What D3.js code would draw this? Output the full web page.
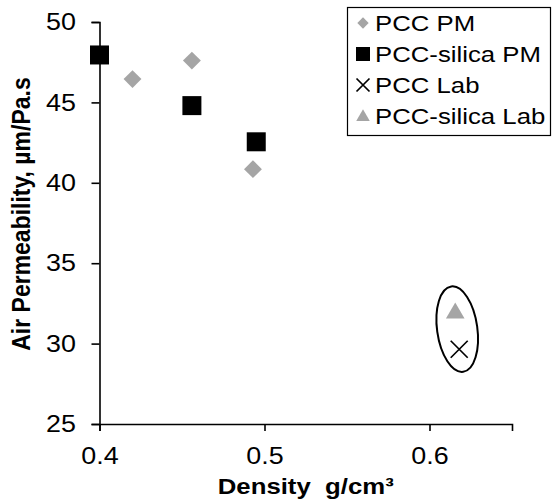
<!DOCTYPE html>
<html>
<head>
<meta charset="utf-8">
<script src="https://cdn.jsdelivr.net/npm/d3@7"></script>
<style>
  body { margin: 0; background: #fff; }
  svg { display: block; font-family: "Liberation Sans", Arial, sans-serif; }
</style>
</head>
<body>
<div id="chart"></div>
<script>
// density (g/cm3) and air permeability (um/Pa.s)
const pccPM = [[0.420, 46.45], [0.456, 47.6], [0.493, 40.85]]
const pccSilicaPM = [[0.400, 47.95], [0.456, 44.8], [0.495, 42.55]]
const pccLab = [[0.618, 29.65]]
const pccSilicaLab = [[0.6156, 31.95]]

// ellipse drawn round the lab points, in data units
const labRing = {cx: 0.6168, cy: 30.9, rx: 0.0122, ry: 2.68, angle: -8}

const xTicks = [0.4, 0.5, 0.6]
const yTicks = [25, 30, 35, 40, 45, 50]
const legendNames = ["PCC PM", "PCC-silica PM", "PCC Lab", "PCC-silica Lab"]

const size = [553, 504]
const margin = ({top: 22, right: 41, bottom: 80, left: 99.5})
const grey = "#a5a5a5"
const stretch = "scale(1.12,1)"  // the original text is a little wide

const svg = d3.create("svg")
  .attr("width", size[0])
  .attr("height", size[1])

const scaleX = d3.scaleLinear()
  .domain([0.4, 0.65])
  .range([margin.left, size[0] - margin.right])

const scaleY = d3.scaleLinear()
  .domain([25, 50])
  .range([size[1] - margin.bottom, margin.top])

const xAxis = g => g
  .attr("transform", `translate(0,${size[1] - margin.bottom})`)
  .call(d3.axisBottom(scaleX)
    .tickValues(xTicks)
    .tickSizeOuter(0)
    .tickSize(7)
    .tickPadding(16)
    .tickFormat(d3.format(".1f")))
  .call(g => g.selectAll(".tick text").attr("transform", stretch))

const yAxis = g => g
  .attr("transform", `translate(${margin.left},0)`)
  .call(d3.axisLeft(scaleY)
    .tickValues(yTicks)
    .tickSizeOuter(0)
    .tickSize(8))
  .call(g => g.selectAll(".tick text")
    .attr("x", 0)
    .attr("transform", `translate(-23.5,0) ${stretch}`))

for (const ax of [xAxis, yAxis]) {
  svg.append("g")
    .call(ax)
    .call(g => g.select(".domain").attr("stroke-width", 1.6))
    .call(g => g.selectAll(".tick line").attr("stroke-width", 1.6))
    .call(g => g.selectAll("text")
      .attr("font-family", "Liberation Sans, Arial, sans-serif")
      .attr("font-size", 24)
      .attr("fill", "#000"))
}

svg.append("text")
  .attr("transform", `translate(${(margin.left + size[0] - margin.right) / 2},494) ${stretch}`)
  .attr("text-anchor", "middle")
  .attr("font-size", 23)
  .attr("font-weight", "bold")
  .text("Density\u00a0 g/cm\u00b3")

svg.append("text")
  .attr("transform", `translate(30,214) ${stretch} rotate(-90)`)
  .attr("text-anchor", "middle")
  .attr("font-size", 23)
  .attr("font-weight", "bold")
  .text("Air Permeability, \u00b5m/Pa.s")

// marker shapes
const diamond = d3.symbol().type(d3.symbolSquare).size(160)
const square = d3.symbol().type(d3.symbolSquare).size(361)
const triangle = d3.symbol().type(d3.symbolTriangle).size(150)

function cross(g, s) {
  g.append("path")
    .attr("d", `M${-s},${-s}L${s},${s}M${-s},${s}L${s},${-s}`)
    .attr("stroke", "#000")
    .attr("stroke-width", 1.7)
    .attr("fill", "none")
}

svg.append("g")
  .selectAll("path")
  .data(pccPM)
  .join("path")
    .attr("d", diamond)
    .attr("fill", grey)
    .attr("transform", d => `translate(${scaleX(d[0])},${scaleY(d[1])}) rotate(45)`)

svg.append("g")
  .selectAll("path")
  .data(pccSilicaPM)
  .join("path")
    .attr("d", square)
    .attr("fill", "#000")
    .attr("transform", d => `translate(${scaleX(d[0])},${scaleY(d[1])})`)

svg.append("g")
  .selectAll("path")
  .data(pccSilicaLab)
  .join("path")
    .attr("d", triangle)
    .attr("fill", grey)
    .attr("transform", d => `translate(${scaleX(d[0])},${scaleY(d[1]) + 1})`)

svg.append("g")
  .selectAll("g")
  .data(pccLab)
  .join("g")
    .attr("transform", d => `translate(${scaleX(d[0])},${scaleY(d[1])})`)
    .each(function() { cross(d3.select(this), 8.5) })

const ringX = scaleX(labRing.cx), ringY = scaleY(labRing.cy)
svg.append("ellipse")
  .attr("cx", 0)
  .attr("cy", 0)
  .attr("rx", scaleX(labRing.cx + labRing.rx) - ringX)
  .attr("ry", ringY - scaleY(labRing.cy + labRing.ry))
  .attr("transform", `translate(${ringX},${ringY}) rotate(${labRing.angle})`)
  .attr("fill", "none")
  .attr("stroke", "#000")
  .attr("stroke-width", 2)

// legend
const legend = svg.append("g")
  .attr("transform", "translate(347,7)")

legend.append("rect")
  .attr("x", 0.5)
  .attr("y", 0.5)
  .attr("width", 203)
  .attr("height", 128)
  .attr("fill", "#fff")
  .attr("stroke", "#000")
  .attr("stroke-width", 1.2)

const rowY = i => 16 + i * 31

const items = legend.selectAll("g.item")
  .data(legendNames)
  .join("g")
    .attr("class", "item")
    .attr("transform", (d, i) => `translate(16,${rowY(i)})`)

items.append("text")
  .attr("transform", `translate(12,8) ${stretch}`)
  .attr("font-size", 23)
  .attr("fill", "#000")
  .text(d => d)

items.each(function(d, i) {
  const g = d3.select(this)
  if (i == 0) g.append("path").attr("d", d3.symbol().type(d3.symbolSquare).size(64)).attr("fill", grey).attr("transform", "rotate(45)")
  if (i == 1) g.append("path").attr("d", d3.symbol().type(d3.symbolSquare).size(196)).attr("fill", "#000")
  if (i == 2) cross(g, 6.5)
  if (i == 3) g.append("path").attr("d", d3.symbol().type(d3.symbolTriangle).size(80)).attr("fill", grey).attr("transform", "translate(0,1)")
})

d3.select("#chart").append(() => svg.node())
</script>
</body>
</html>
